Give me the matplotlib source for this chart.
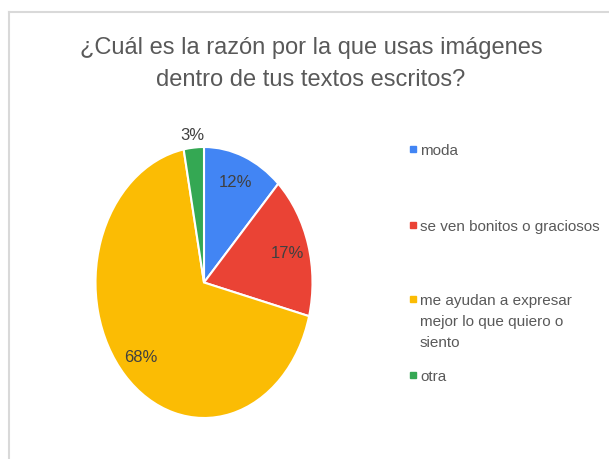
import numpy as np
import matplotlib
matplotlib.use("Agg")
import matplotlib.pyplot as plt
from matplotlib.lines import Line2D
from matplotlib.patches import Rectangle

title = "¿Cuál es la razón por la que usas imágenes\ndentro de tus textos escritos?"
categories = [
    "moda",
    "se ven bonitos o graciosos",
    "me ayudan a expresar\nmejor lo que quiero o\nsiento",
    "otra",
]
values = [12, 17, 68, 3]
colors = ["#4285F4", "#EA4335", "#FBBC04", "#34A853"]

plt.rcParams["font.family"] = ["Liberation Sans", "DejaVu Sans"]

W, H = 609, 460
fig = plt.figure(figsize=(W / 100, H / 100), dpi=100)

# marco gris (arriba y a la izquierda)
fig.add_artist(Line2D([9 / W, 1], [1 - 13 / H, 1 - 13 / H], color="#d9d9d9", lw=1.5))
fig.add_artist(Line2D([9 / W, 9 / W], [0, 1 - 13 / H], color="#d9d9d9", lw=1.5))

fig.text(311 / W, 1 - 64 / H, title, ha="center", va="center", fontsize=17,
         color="#595959", linespacing=1.6)

# pastel elíptico: ejes con aspecto libre
cx, cy, rx, ry = 204, 283.5, 108.5, 135.5
ax = fig.add_axes([(cx - rx) / W, 1 - (cy + ry) / H, 2 * rx / W, 2 * ry / H])
wedges, _ = ax.pie(values, colors=colors, startangle=90, counterclock=False,
                   wedgeprops=dict(edgecolor="white", linewidth=1.5))
ax.set_aspect("auto")
ax.set_xlim(-1, 1)
ax.set_ylim(-1, 1)
ax.axis("off")

total = sum(values)
start = 90.0
for v in values:
    mid = np.deg2rad(start - 360 * v / total / 2)
    r = 0.8 if v / total >= 0.05 else 1.1
    ax.text(r * np.cos(mid), r * np.sin(mid), f"{v}%", ha="center", va="center",
            fontsize=12, color="#404040", clip_on=False)
    start -= 360 * v / total

# leyenda
legend_y = [150, 226, 300, 376]
for cat, col, y in zip(categories, colors, legend_y):
    fig.add_artist(Rectangle((410 / W, 1 - (y + 3) / H), 6 / W, 6 / H,
                             color=col, transform=fig.transFigure))
    fig.text(420 / W, 1 - (y - 6) / H, cat, ha="left", va="top", fontsize=11,
             color="#595959", linespacing=1.65)

fig.savefig("out.png", dpi=100)
